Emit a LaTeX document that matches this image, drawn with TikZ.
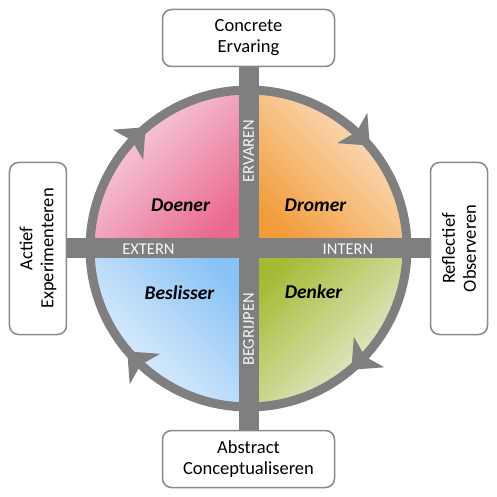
\documentclass[tikz,border=0pt]{standalone}
\usepackage{fontspec}
\setmainfont{Carlito}
\usetikzlibrary{arrows,calc}
\definecolor{ringgray}{HTML}{7F7F7F}
\definecolor{boxgray}{HTML}{8A8A8A}
\definecolor{pinkdark}{HTML}{EA6890}
\definecolor{pinklight}{HTML}{F8DCE5}
\definecolor{orangedark}{HTML}{F29B38}
\definecolor{orangelight}{HTML}{FCE6CF}
\definecolor{bluedark}{HTML}{88C2F6}
\definecolor{bluelight}{HTML}{EAF3FC}
\definecolor{greendark}{HTML}{A3BB33}
\definecolor{greenlight}{HTML}{EDF0E2}
\tikzset{
  phasebox/.style={draw=boxgray, line width=1.5pt, rounded corners=9pt, fill=white,
    minimum width=172pt, minimum height=57pt, align=center, inner sep=0pt,
    font=\fontsize{18.5}{21}\selectfont},
  axislabel/.style={text=white!94!gray, inner sep=0pt, font=\fontsize{16.5}{18}\selectfont},
  typelabel/.style={inner sep=0pt, font=\fontsize{19.5}{22}\selectfont\bfseries\itshape},
  bar/.style={ringgray, line width=20pt}
}

\begin{document}
\begin{tikzpicture}[x=1pt,y=1pt]
    \useasboundingbox (-248.5,-248.5) rectangle (248.5,248.5);
    \shade[top color=pinklight, bottom color=pinkdark, shading angle=45] (0,0) -- (-158.5,0) arc (180:90:158.5) -- cycle;
    \shade[top color=orangelight, bottom color=orangedark, shading angle=-45] (0,0) -- (0,158.5) arc (90:0:158.5) -- cycle;
    \shade[top color=bluelight, bottom color=bluedark, shading angle=135] (0,0) -- (0,-158.5) arc (270:180:158.5) -- cycle;
    \shade[top color=greenlight, bottom color=greendark, shading angle=225] (0,0) -- (158.5,0) arc (0:-90:158.5) -- cycle;
    \draw[ringgray, line width=9pt] (0,0) circle (158.5);
    \foreach \a in {135,45,-45,-135}
      \fill[ringgray, rotate=\a] (137,12) -- (158.5,6) -- (180,12) -- (158.5,-13) -- cycle;
    \node[phasebox] (ce) at (0,210.5) {Concrete\\Ervaring};
    \node[phasebox] (ac) at (0,-210.5) {Abstract\\Conceptualiseren};
    \node[phasebox, rotate=90] (ae) at (-210.5,0) {Actief\\Experimenteren};
    \node[phasebox, rotate=90] (ro) at (210.5,0) {Reflectief\\Observeren};
    \draw[bar] (ce.south) -- (ac.north);
    \draw[bar] (ae.south) -- (ro.north);
    \node[axislabel] (extern) at (-100,-1) {EXTERN};
    \node[axislabel] (intern) at (99.5,-1) {INTERN};
    \node[axislabel, rotate=90] (ervaren) at (0,97.5) {ERVAREN};
    \node[axislabel, rotate=90] (begrijpen) at (0,-81) {BEGRIJPEN};
    \node[typelabel] (doener) at (-68,43) {Doener};
    \node[typelabel] (dromer) at (67,43) {Dromer};
    \node[typelabel] (beslisser) at (-69,-44) {Beslisser};
    \node[typelabel] (denker) at (65,-43) {Denker};
\end{tikzpicture}
\end{document}
